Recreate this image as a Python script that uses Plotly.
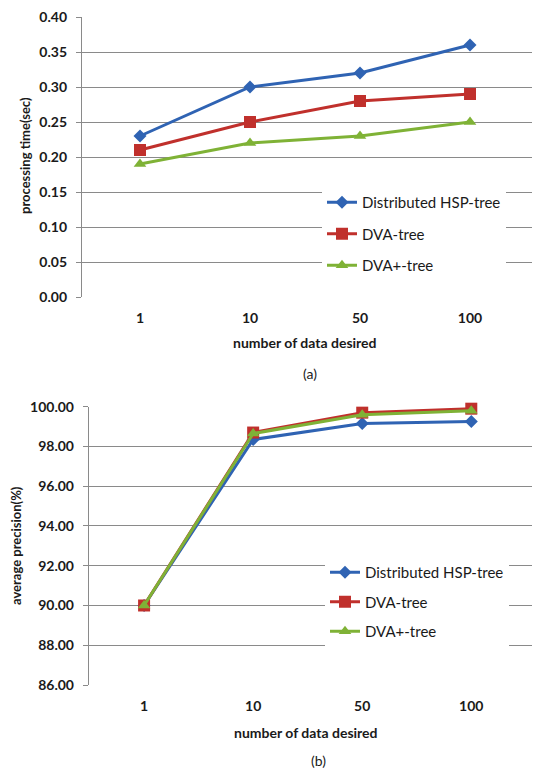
import plotly.graph_objects as go

categories = ["1", "10", "50", "100"]
series_names = ["Distributed HSP-tree", "DVA-tree", "DVA+-tree"]

time_hsp = [0.23, 0.30, 0.32, 0.36]
time_dva = [0.21, 0.25, 0.28, 0.29]
time_dvap = [0.19, 0.22, 0.23, 0.25]

prec_hsp = [90.0, 98.35, 99.15, 99.25]
prec_dva = [90.0, 98.7, 99.7, 99.9]
prec_dvap = [90.0, 98.65, 99.6, 99.8]

y1_ticks = [0.00, 0.05, 0.10, 0.15, 0.20, 0.25, 0.30, 0.35, 0.40]
y2_ticks = [86, 88, 90, 92, 94, 96, 98, 100]

colors = ["#2f63b3", "#c0302c", "#7fb236"]
symbols = ["diamond", "square", "triangle-up"]
msizes = [10, 12, 11]

# page body has an 8px margin; size the figure so it fits the 540x770 window
OFF = 8
W, H = 540 - OFF, 770 - OFF
FONT = "Lato"
TXT = "#1a1a1a"
GRID = "#8a8a8a"

fig = go.Figure()

for i, (name, vals) in enumerate(zip(series_names, [time_hsp, time_dva, time_dvap])):
    fig.add_trace(go.Scatter(
        x=categories, y=vals, name=name, mode="lines+markers",
        line=dict(color=colors[i], width=3),
        marker=dict(symbol=symbols[i], size=msizes[i], color=colors[i]),
        xaxis="x", yaxis="y", legend="legend", legendgroup="a%d" % i,
        cliponaxis=False,
    ))

for i, (name, vals) in enumerate(zip(series_names, [prec_hsp, prec_dva, prec_dvap])):
    fig.add_trace(go.Scatter(
        x=categories, y=vals, name=name, mode="lines+markers",
        line=dict(color=colors[i], width=3),
        marker=dict(symbol=symbols[i], size=msizes[i], color=colors[i]),
        xaxis="x2", yaxis="y2", legend="legend2", legendgroup="b%d" % i,
        cliponaxis=False,
    ))

def py(pix):
    return 1 - (pix - OFF) / H

def px(pix):
    return (pix - OFF) / W

tickfont = dict(family=FONT, size=14, color=TXT, weight="bold")

xcommon = dict(type="category", showgrid=False, zeroline=False, showline=False,
               ticks="", tickfont=tickfont, ticklabelstandoff=11, automargin=False)
ycommon = dict(showgrid=True, gridcolor=GRID, gridwidth=1.4, zeroline=False,
               showline=True, linecolor=GRID, linewidth=1.4,
               ticks="outside", ticklen=5, tickcolor=GRID, tickwidth=1.4,
               tickfont=tickfont, tickformat=".2f", automargin=False,
               ticklabelstandoff=6, ticklabeloverflow="allow")

legcommon = dict(bgcolor="white", borderwidth=0, traceorder="grouped",
                 font=dict(family=FONT, size=15, color=TXT),
                 xanchor="left", yanchor="top", itemwidth=30)

def ann(text, x, y, size=14, bold=True, angle=0):
    f = dict(family=FONT, size=size, color=TXT)
    if bold:
        f["weight"] = "bold"
    return dict(text=text, x=px(x), y=py(y), xref="paper", yref="paper",
                xanchor="center", yanchor="middle", textangle=angle,
                showarrow=False, font=f)

fig.update_layout(
    width=W, height=H, margin=dict(l=0, r=0, t=0, b=0, pad=0, autoexpand=False),
    paper_bgcolor="white", plot_bgcolor="white",
    xaxis=dict(domain=[px(82), 1], anchor="y", range=[-0.527, 3.636], **xcommon),
    yaxis=dict(domain=[py(297), py(17)], anchor="x", range=[0, 0.40],
               tickvals=y1_ticks, **ycommon),
    xaxis2=dict(domain=[px(89), 1], anchor="y2", range=[-0.505, 3.63], **xcommon),
    yaxis2=dict(domain=[py(685), py(406.7)], anchor="x2", range=[86, 100],
                tickvals=y2_ticks, **ycommon),
    legend=dict(x=px(322), y=py(186), tracegroupgap=9, **legcommon),
    legend2=dict(x=px(325), y=py(556), tracegroupgap=7, **legcommon),
    annotations=[
        ann("processing time(sec)", 25, 156, size=13, angle=-90),
        ann("number of data desired", 305, 342),
        ann("(a)", 310, 373, bold=False),
        ann("average precision(%)", 16, 546, size=13, angle=-90),
        ann("number of data desired", 306, 732),
        ann("(b)", 318, 760, bold=False),
    ],
)

fig.write_html("out.html")
